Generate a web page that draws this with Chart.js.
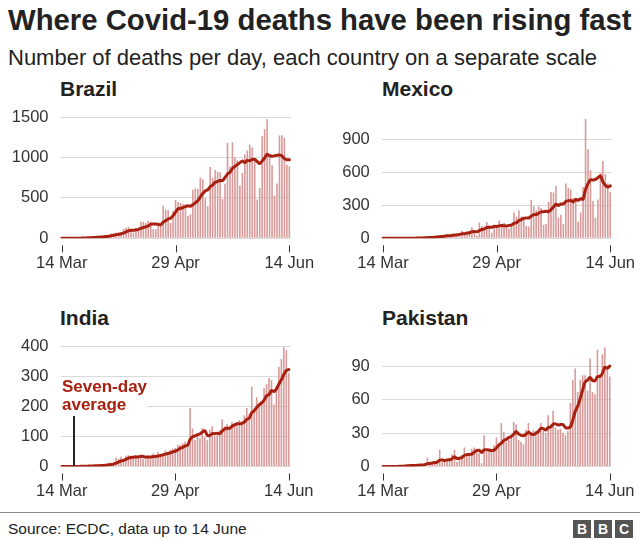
<!DOCTYPE html>
<html>
<head>
<meta charset="utf-8">
<script src="https://cdn.jsdelivr.net/npm/chart.js@4.4.0/dist/chart.umd.min.js"></script>
<style>
body { margin:0; background:#fff; font-family:"Liberation Sans", Arial, Helvetica, sans-serif; color:#222; }
#wrap { position:relative; width:640px; height:540px; overflow:hidden; }
.t { position:absolute; white-space:nowrap; }
.h { font-size:21px; font-weight:bold; line-height:24px; }
canvas { position:absolute; }
.bbc { position:absolute; top:520px; width:18px; height:18px; background:#555; color:#fff; font-weight:bold; font-size:14px; line-height:18px; text-align:center; }
</style>
</head>
<body>
<div id="wrap">
  <div class="t" style="left:8px;top:3px;font-size:29.3px;font-weight:bold;line-height:34px">Where Covid-19 deaths have been rising fast</div>
  <div class="t" style="left:8px;top:45px;font-size:22px;line-height:26px">Number of deaths per day, each country on a separate scale</div>

  <div class="t h" style="left:60px;top:77px">Brazil</div>
  <div class="t h" style="left:382px;top:77px">Mexico</div>
  <div class="t h" style="left:60px;top:306px">India</div>
  <div class="t h" style="left:382px;top:306px">Pakistan</div>

  <canvas id="brazil" width="320" height="180" style="left:0;top:105px"></canvas>
  <canvas id="mexico" width="320" height="180" style="left:320px;top:105px"></canvas>
  <canvas id="india" width="320" height="180" style="left:0;top:331px"></canvas>
  <canvas id="pakistan" width="320" height="180" style="left:320px;top:331px"></canvas>

  <div class="t" style="left:62px;top:378px;font-size:17px;font-weight:bold;line-height:18px;color:#a8200f;background:#fff">Seven-day<br>average</div>
  <div style="position:absolute;left:73px;top:416px;width:1.5px;height:50px;background:#222"></div>

  <div style="position:absolute;left:0;top:512px;width:640px;height:1px;background:#888"></div>
  <div class="t" style="left:8px;top:520px;font-size:15.5px;line-height:18px">Source: ECDC, data up to 14 June</div>
  <div class="bbc" style="left:573px">B</div>
  <div class="bbc" style="left:594px">B</div>
  <div class="bbc" style="left:615px">C</div>
</div>

<script>
// x ticks
const tickDays = [0, 46, 92];
const tickLabels = ['14 Mar', '29 Apr', '14 Jun'];

// 14 Mar .. 14 Jun
const months = [['Mar', 14, 31], ['Apr', 1, 30], ['May', 1, 31], ['Jun', 1, 14]];
const days = [];
months.forEach(m => { for (let d = m[1]; d <= m[2]; d++) days.push(d + ' ' + m[0]); });

// y ticks per country
const brazilTicks = [0, 500, 1000, 1500];
const mexicoTicks = [0, 300, 600, 900];
const indiaTicks = [0, 100, 200, 300, 400];
const pakistanTicks = [0, 30, 60, 90];

const brazilDaily = [
  0,0,0,0,1,3,2,5,7,7,9,12,11,20,15,22,22,23,
  42,40,58,60,73,54,67,114,133,141,115,68,99,105,204,204,188,217,206,115,113,166,165,407,357,346,189,338,474,449,
  435,428,421,275,296,600,615,610,751,730,496,396,881,749,844,824,816,485,674,1179,888,1188,1001,965,653,807,1039,1086,1156,1124,956,
  480,623,1262,1349,1473,1005,904,525,679,1272,1274,1239,909,892
];
const brazilAvg = [
  0,0,0,0,0.1,0.6,0.9,1.6,2.6,3.6,4.9,6.4,7.6,10.1,11.6,13.7,15.9,17.9,
  22.1,26.3,31.7,38.1,45.4,50,56.3,66.6,79.9,91.7,99.6,98.9,105.3,110.7,123.6,133.7,140.4,155,174.7,177,178.1,172.7,167.1,198.4,218.4,238.4,249,281.1,325.1,365.7,
  369.7,379.9,390.6,402.9,396.9,414.9,438.6,463.6,509.7,553.9,585.4,599.7,639.9,659,692.4,702.9,715.1,713.6,753.3,795.9,815.7,864.9,890.1,911.4,935.4,954.4,934.4,962.7,958.1,975.7,974.4,
  949.7,923.4,955.3,992.9,1038.1,1021.1,1013.7,1020.1,1028.1,1029.6,1018.9,985.4,971.7,970
];

const mexicoDaily = [
  0,0,0,0,0,0,1,0,1,0,2,1,3,4,4,4,8,8,
  8,13,13,19,15,31,16,33,36,20,40,37,40,47,70,43,60,59,100,60,26,145,113,99,150,118,50,93,125,163,
  117,140,102,89,114,236,197,257,199,193,112,108,353,294,257,290,278,121,132,334,424,420,479,190,215,133,501,463,447,371,364,
  151,237,470,1092,816,625,341,188,354,596,708,587,504,424
];
const mexicoAvg = [
  0,0,0,0,0,0,0.1,0.1,0.3,0.3,0.6,0.7,1.1,1.6,2.1,2.6,3.7,4.6,
  5.6,7,8.3,10.4,12,15.3,16.4,20,23.3,24.3,27.3,30.4,31.7,36.1,41.4,42.4,48.1,50.9,59.9,62.7,59.7,70.4,80.4,86,99,101.6,100.1,109.7,106.9,114,
  116.6,115.1,112.9,118.4,121.4,137.3,142.1,162.1,170.6,183.6,186.9,186,202.7,216.6,216.6,229.6,241.7,243,246.4,243.7,262.3,285.6,312.6,300,313.4,313.6,337.4,343,346.9,331.4,356.3,
  347.1,362,357.6,447.4,500.1,536.4,533.1,538.4,555.1,573.1,518.3,485.6,468.3,480.1
];

const indiaDaily = [
  0,0,0,1,0,1,1,0,2,3,1,1,3,4,3,5,5,4,
  6,12,10,13,30,25,32,20,36,38,29,34,35,31,38,26,23,36,31,43,36,48,40,37,53,47,56,60,62,71,
  72,77,83,68,194,126,89,103,95,128,97,87,122,134,100,103,120,157,134,140,132,148,137,147,154,146,170,194,175,265,193,
  230,204,217,260,273,294,287,206,266,331,357,396,386,311
];
const indiaAvg = [
  0,0,0,0.1,0.1,0.3,0.4,0.4,0.7,1.1,1.1,1.3,1.6,2,2.4,2.9,3.1,3.6,
  4.3,5.6,6.4,7.9,11.4,14.3,18.3,20.3,23.7,27.7,30,30.6,32,31.9,34.4,33,30.9,31.9,31.4,32.6,33.3,34.7,36.7,38.7,41.1,43.4,45.3,48.7,50.7,55.1,
  60.1,63.6,68.7,70.4,89.6,98.7,101.3,105.7,108.3,114.7,118.9,103.6,103,109.4,109,110.1,109,117.6,124.3,126.9,126.6,133.4,138.3,142.1,141.7,143.4,147.7,156.6,160.4,178.7,185.3,
  196.1,204.4,211.1,220.6,234.6,238.7,252.1,248.7,257.6,273.9,287.7,305.3,318.4,321.9
];

const pakistanDaily = [
  0,0,0,0,0,0,1,1,0,1,1,2,1,1,2,1,2,3,
  8,2,4,5,3,15,4,5,5,6,11,15,4,6,10,17,12,12,16,17,16,12,3,28,13,15,13,19,26,21,
  39,31,22,24,26,40,38,24,22,20,33,39,30,33,32,33,39,32,30,46,36,50,35,33,34,30,28,32,57,78,88,
  67,78,82,82,68,97,67,65,105,83,101,107,90,81
];
const pakistanAvg = [
  0,0,0,0,0,0,0.1,0.3,0.3,0.4,0.6,0.9,1,1,1.1,1.3,1.4,1.7,
  2.6,2.7,3.1,3.6,3.9,5.7,5.9,5.4,5.9,6.1,7,8.7,7.1,7.4,8.1,9.9,10.7,10.9,11,12.9,14.3,14.6,12.6,14.9,15,14.9,14.3,14.7,16.7,19.3,
  20.9,23.4,24.4,26,27,29,31.4,29.3,28,27.7,29,30.9,29.4,28.7,29.9,31.4,34.1,34,32.7,35,35.4,38,38.3,37.4,37.7,37.7,35.1,34.6,35.6,41.7,49.6,
  54.3,61.1,68.9,76,77.6,80.3,77.3,77,80.9,81,83.7,89.3,88.3,90.3
];

const lineColor = '#a8200f';
const barColor = '#d99a9a';
const textColor = '#333';
const fontFamily = '"Liberation Sans", Arial, Helvetica, sans-serif';

// small tick marks below the axis, a little detached like the original
const tickMarks = {
  id: 'tickMarks',
  afterDraw(chart) {
    const { ctx, chartArea, scales: { x } } = chart;
    ctx.save();
    ctx.strokeStyle = textColor;
    ctx.lineWidth = 1;
    tickDays.forEach(d => {
      const px = Math.round(x.getPixelForValue(d)) + 0.5;
      ctx.beginPath();
      ctx.moveTo(px, chartArea.bottom + 7);
      ctx.lineTo(px, chartArea.bottom + 14);
      ctx.stroke();
    });
    ctx.restore();
  }
};

function makePanel(id, daily, avg, yTicks, yMax, axisW, padTop, padRight, axisH) {
  new Chart(document.getElementById(id), {
    data: {
      labels: days,
      datasets: [
        { type: 'line', data: avg, borderColor: lineColor, borderWidth: 3, pointRadius: 0,
          tension: 0.2, borderJoinStyle: 'round', borderCapStyle: 'round', order: 0 },
        { type: 'bar', data: daily, backgroundColor: barColor, barPercentage: 0.65,
          categoryPercentage: 1, order: 1 }
      ]
    },
    options: {
      responsive: false,
      animation: false,
      layout: { padding: { top: padTop, right: padRight, left: 0, bottom: 0 } },
      plugins: { legend: { display: false }, tooltip: { enabled: false } },
      scales: {
        x: {
          grid: { display: false, drawTicks: false },
          border: { display: false },
          ticks: {
            autoSkip: false, maxRotation: 0, padding: 15, color: textColor,
            font: { family: fontFamily, size: 16.5 },
            callback(v, i) {
              const k = tickDays.indexOf(i);
              return k < 0 ? null : tickLabels[k];
            }
          },
          afterFit(s) { s.height = axisH; s.paddingLeft = 0; s.paddingRight = 0; }
        },
        y: {
          min: 0, max: yMax,
          grid: { color: '#d9d9d9', drawTicks: false },
          border: { display: false },
          ticks: { padding: 12, color: textColor, font: { family: fontFamily, size: 16.5 },
            callback: v => String(v) },
          afterBuildTicks(s) { s.ticks = yTicks.map(v => ({ value: v })); },
          afterFit(s) { s.width = axisW; s.paddingTop = 0; s.paddingBottom = 0; }
        }
      }
    },
    plugins: [tickMarks]
  });
}

makePanel('brazil', brazilDaily, brazilAvg, brazilTicks, 1500, 60.5, 12, 29.4, 46.7);
makePanel('mexico', mexicoDaily, mexicoAvg, mexicoTicks, 1110, 61.8, 12, 28.5, 46.7);
makePanel('india', indiaDaily, indiaAvg, indiaTicks, 410, 60.5, 12, 30, 44.5);
makePanel('pakistan', pakistanDaily, pakistanAvg, pakistanTicks, 111, 61.8, 12, 29, 44.5);
</script>
</body>
</html>
